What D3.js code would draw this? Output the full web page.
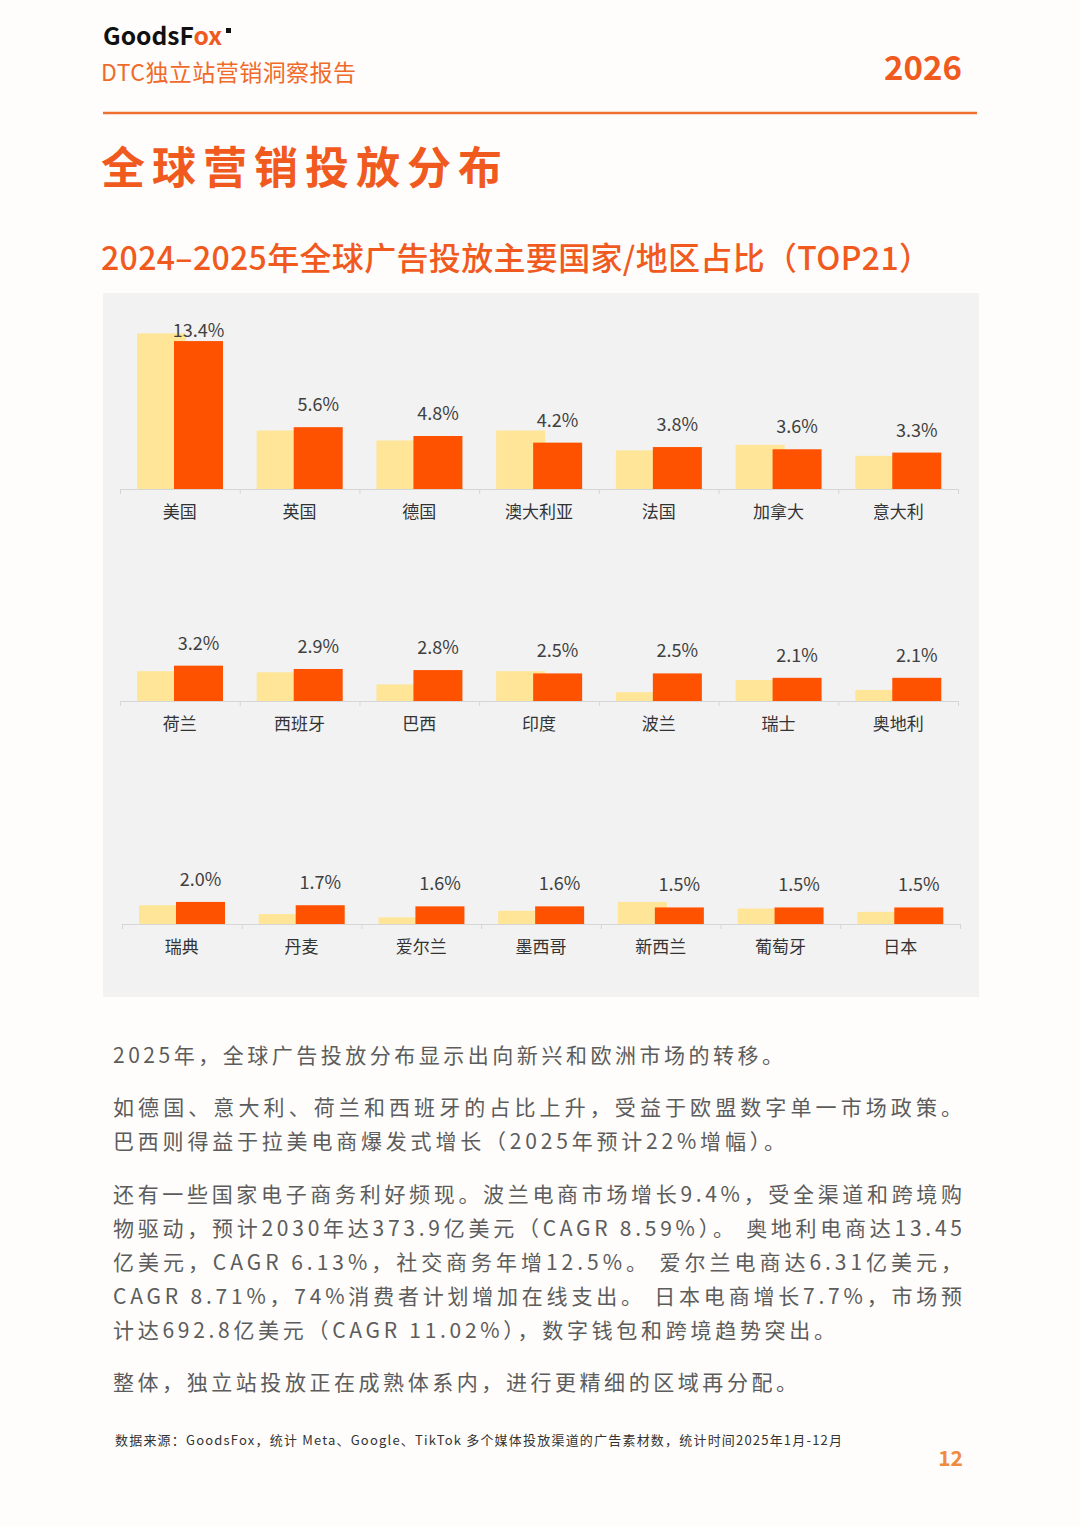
<!DOCTYPE html>
<html>
<head>
<meta charset="utf-8">
<script src="https://cdn.jsdelivr.net/npm/d3@7"></script>
<style>
  html, body { margin: 0; padding: 0; background: #fefdfb; }
  svg { display: block; }
  text { font-family: "Noto Sans CJK SC", "Noto Sans", sans-serif; }
</style>
</head>
<body>
<div id="page"></div>
<script>
// chart data (2024 values are estimates from bar heights)
const countries = ['美国', '英国', '德国', '澳大利亚', '法国', '加拿大', '意大利',
                   '荷兰', '西班牙', '巴西', '印度', '波兰', '瑞士', '奥地利',
                   '瑞典', '丹麦', '爱尔兰', '墨西哥', '新西兰', '葡萄牙', '日本'];
const share2024 = [14.1, 5.3, 4.4, 5.3, 3.5, 4.0, 3.0,
                   2.7, 2.6, 1.5, 2.7, 0.8, 1.9, 1.0,
                   1.7, 0.9, 0.6, 1.2, 2.0, 1.4, 1.1];
const share2025 = [13.4, 5.6, 4.8, 4.2, 3.8, 3.6, 3.3,
                   3.2, 2.9, 2.8, 2.5, 2.5, 2.1, 2.1,
                   2.0, 1.7, 1.6, 1.6, 1.5, 1.5, 1.5];
const years = ['2024', '2025'];

const W = 1080, H = 1527;
const orange = '#f05a1e';
const c2024 = '#fee597';
const c2025 = '#ff5200';

const svg = d3.select('#page')
  .append('svg')
  .attr('width', W)
  .attr('height', H);

// ---- header ----
const logo = svg.append('text')
  .attr('x', 103)
  .attr('y', 45)
  .attr('font-family', '"Noto Sans", sans-serif')
  .attr('font-size', 24)
  .attr('font-weight', 600)
  .attr('fill', '#111')
  .attr('textLength', 119)
  .attr('lengthAdjust', 'spacingAndGlyphs');
logo.append('tspan').text('GoodsF');
logo.append('tspan').attr('fill', orange).text('ox');
svg.append('rect')
  .attr('x', 226).attr('y', 28)
  .attr('width', 5).attr('height', 5)
  .attr('fill', '#111');

svg.append('text')
  .attr('x', 101)
  .attr('y', 81)
  .attr('font-size', 23)
  .attr('fill', '#f06a2a')
  .attr('textLength', 255)
  .attr('lengthAdjust', 'spacing')
  .text('DTC独立站营销洞察报告');

svg.append('text')
  .attr('x', 962)
  .attr('y', 80)
  .attr('text-anchor', 'end')
  .attr('font-size', 33)
  .attr('font-weight', 700)
  .attr('fill', orange)
  .text('2026');

svg.append('line')
  .attr('x1', 103).attr('x2', 977)
  .attr('y1', 113).attr('y2', 113)
  .attr('stroke', '#f07030')
  .attr('stroke-width', 2.5);

svg.append('text')
  .attr('x', 101)
  .attr('y', 184)
  .attr('font-size', 44)
  .attr('font-weight', 700)
  .attr('letter-spacing', 7)
  .attr('fill', orange)
  .text('全球营销投放分布');

svg.append('text')
  .attr('x', 101)
  .attr('y', 270)
  .attr('font-size', 32)
  .attr('font-weight', 500)
  .attr('fill', orange)
  .attr('textLength', 830)
  .attr('lengthAdjust', 'spacing')
  .text('2024–2025年全球广告投放主要国家/地区占比（TOP21）');

// ---- chart panel ----
svg.append('rect')
  .attr('x', 103).attr('y', 293)
  .attr('width', 876).attr('height', 704)
  .attr('fill', '#f2f2f2');

const rows = [
  { start: 0, base: 489, x0: 120, x1: 958 },
  { start: 7, base: 701, x0: 120, x1: 958 },
  { start: 14, base: 924, x0: 122, x1: 960 }
];

const barW = 49;

rows.forEach(function(r) {
  const names = countries.slice(r.start, r.start + 7);
  const rowData = names.map(function(name, i) {
    return {
      name: name,
      v2024: share2024[r.start + i],
      v2025: share2025[r.start + i]
    };
  });

  const x = d3.scaleBand()
    .domain(names)
    .range([r.x0, r.x1]);

  const xSub = d3.scaleBand()
    .domain(years)
    .range([17, 91]);

  const y = d3.scaleLinear()
    .domain([0, 15])
    .range([r.base, r.base - 165.6]);

  const g = svg.append('g');

  const groups = g.selectAll('g.country')
    .data(rowData)
    .enter()
    .append('g')
    .attr('class', 'country')
    .attr('transform', function(d) {
      return 'translate(' + x(d.name) + ',0)';
    });

  groups.append('rect')
    .attr('x', xSub('2024'))
    .attr('y', function(d) { return y(d.v2024); })
    .attr('width', barW)
    .attr('height', function(d) { return y(0) - y(d.v2024); })
    .attr('fill', c2024);

  groups.append('rect')
    .attr('x', xSub('2025'))
    .attr('y', function(d) { return y(d.v2025); })
    .attr('width', barW)
    .attr('height', function(d) { return y(0) - y(d.v2025); })
    .attr('fill', c2025);

  groups.append('text')
    .attr('x', xSub('2025') + barW / 2)
    .attr('y', function(d) {
      return Math.max(y(d.v2025) - 16, r.base - 152);
    })
    .attr('text-anchor', 'middle')
    .attr('font-size', 18)
    .attr('fill', '#404040')
    .text(function(d) { return d.v2025.toFixed(1) + '%'; });

  // axis line with ticks at band edges
  const edges = d3.scaleLinear()
    .domain([0, names.length])
    .range([r.x0, r.x1]);
  const axisLine = g.append('g')
    .attr('transform', 'translate(0,' + r.base + ')')
    .call(d3.axisBottom(edges)
      .ticks(names.length)
      .tickSize(5)
      .tickSizeOuter(0)
      .tickFormat(''));
  axisLine.selectAll('path, line').attr('stroke', '#d6d6d6');

  // category labels
  const labels = g.append('g')
    .attr('transform', 'translate(0,' + r.base + ')')
    .call(d3.axisBottom(x).tickSize(0).tickPadding(17));
  labels.select('.domain').remove();
  labels.selectAll('text')
    .attr('font-family', '"Noto Sans CJK SC", sans-serif')
    .attr('font-size', 17)
    .attr('fill', '#333');
});

// ---- body text ----
const bodyLines = [
  { t: '2025年，全球广告投放分布显示出向新兴和欧洲市场的转移。', y: 1063, w: 670 },
  { t: '如德国、意大利、荷兰和西班牙的占比上升，受益于欧盟数字单一市场政策。', y: 1115, w: 849 },
  { t: '巴西则得益于拉美电商爆发式增长（2025年预计22%增幅）。', y: 1149, w: 672 },
  { t: '还有一些国家电子商务利好频现。波兰电商市场增长9.4%，受全渠道和跨境购', y: 1202, w: 849 },
  { t: '物驱动，预计2030年达373.9亿美元（CAGR 8.59%）。 奥地利电商达13.45', y: 1236, w: 849 },
  { t: '亿美元，CAGR 6.13%，社交商务年增12.5%。 爱尔兰电商达6.31亿美元，', y: 1270, w: 849 },
  { t: 'CAGR 8.71%，74%消费者计划增加在线支出。 日本电商增长7.7%，市场预', y: 1304, w: 849 },
  { t: '计达692.8亿美元（CAGR 11.02%），数字钱包和跨境趋势突出。', y: 1338, w: 722 },
  { t: '整体，独立站投放正在成熟体系内，进行更精细的区域再分配。', y: 1390, w: 684 }
];

svg.selectAll('text.body')
  .data(bodyLines)
  .enter()
  .append('text')
  .attr('class', 'body')
  .attr('x', 113)
  .attr('y', function(d) { return d.y; })
  .attr('font-size', 21)
  .attr('fill', '#5c5c5c')
  .attr('textLength', function(d) { return d.w; })
  .attr('lengthAdjust', 'spacing')
  .text(function(d) { return d.t; });

// ---- footer ----
svg.append('text')
  .attr('x', 115)
  .attr('y', 1445)
  .attr('font-size', 13)
  .attr('fill', '#333')
  .attr('textLength', 727)
  .attr('lengthAdjust', 'spacing')
  .text('数据来源：GoodsFox，统计 Meta、Google、TikTok 多个媒体投放渠道的广告素材数，统计时间2025年1月-12月');

svg.append('text')
  .attr('x', 963)
  .attr('y', 1466)
  .attr('text-anchor', 'end')
  .attr('font-size', 21)
  .attr('font-weight', 700)
  .attr('fill', '#f08a40')
  .text('12');
</script>
</body>
</html>
